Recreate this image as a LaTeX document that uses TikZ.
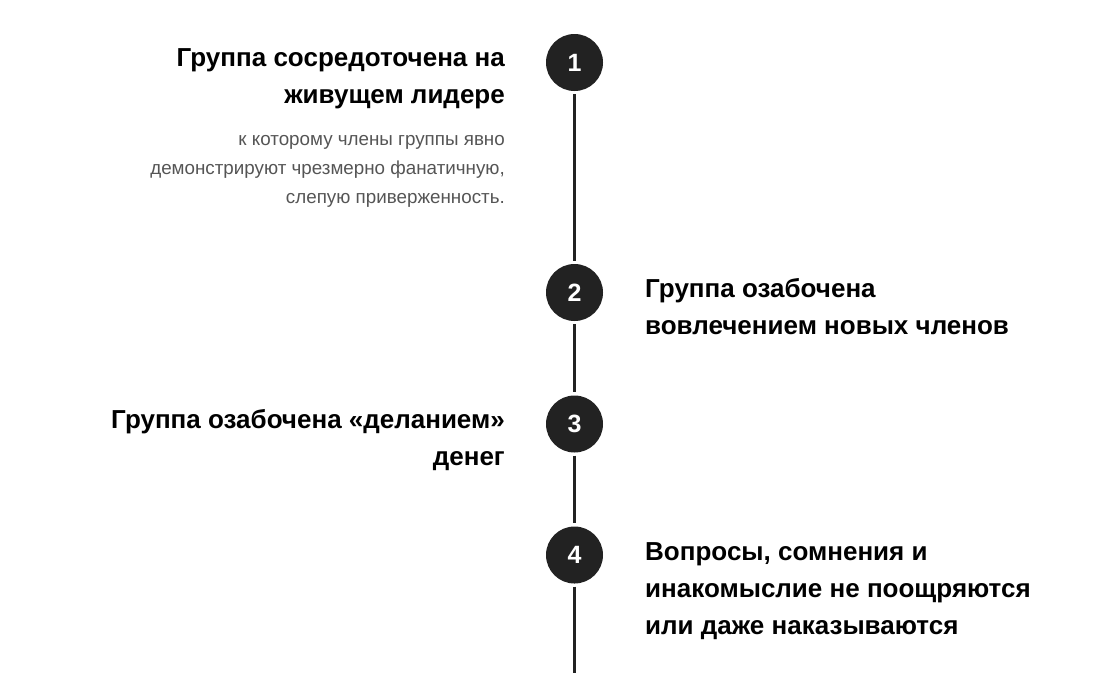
\documentclass[tikz,border=0pt]{standalone}
\usepackage{fontspec}
\setmainfont{Liberation Sans}
\usetikzlibrary{positioning}
\definecolor{ink}{HTML}{222222}
\definecolor{notegray}{HTML}{555555}

\begin{document}
\begin{tikzpicture}[x=1pt,y=-1pt,
    marker/.style={circle,fill=ink,minimum size=57pt,inner sep=0pt,
                   text=white,font=\fontsize{25}{25}\selectfont\bfseries},
    title/.style={inner sep=0pt,font=\fontsize{26}{37}\selectfont\bfseries,
                  text=black},
    note/.style={inner sep=0pt,font=\fontsize{18.8}{29}\selectfont,
                 text=notegray},
    link/.style={draw=ink,line width=3.5pt,shorten <=3pt,shorten >=3pt}]
  \useasboundingbox (0,0) rectangle (1115,673);
  % markers on the timeline
  \node[marker] (m1) at (574.5,62.5) {1};
  \node[marker] (m2) at (574.5,292.5) {2};
  \node[marker] (m3) at (574.5,424) {3};
  \node[marker] (m4) at (574.5,555) {4};
  \coordinate (bottom) at (574.5,673);
  % timeline
  \draw[link] (m1) -- (m2);
  \draw[link] (m2) -- (m3);
  \draw[link] (m3) -- (m4);
  \draw[link,shorten >=0pt] (m4) -- (bottom);
  % texts (anchored at the baseline of their last line)
  \node[title,align=right,anchor=base east] (t1) at (505,103)
       {Группа сосредоточена на\\живущем лидере};
  \node[note,align=right,anchor=base east] (n1) at (505,203)
       {к которому члены группы явно\\демонстрируют чрезмерно фанатичную,\\слепую приверженность.};
  \node[title,align=left,anchor=base west] (t2) at (645,334)
       {Группа озабочена\\вовлечением новых членов};
  \node[title,align=right,anchor=base east] (t3) at (505,465)
       {Группа озабочена «деланием»\\денег};
  \node[title,align=left,anchor=base west] (t4) at (645,634)
       {Вопросы, сомнения и\\инакомыслие не поощряются\\или даже наказываются};
\end{tikzpicture}
\end{document}
